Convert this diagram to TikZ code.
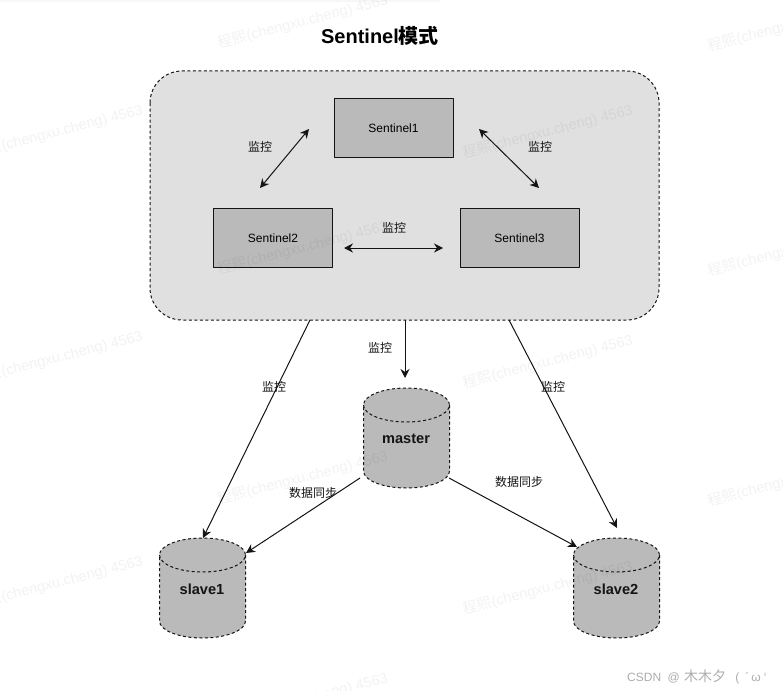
\documentclass[tikz,border=0pt]{standalone}
\usepackage{fontspec}
\setmainfont{Liberation Sans}
\newfontfamily\cjk{Noto Sans CJK SC}
\usetikzlibrary{arrows.meta,calc}
\definecolor{panelgray}{RGB}{224,224,224}
\definecolor{boxgray}{RGB}{186,186,186}
\definecolor{inkdark}{RGB}{20,20,20}
\tikzset{
  link/.style={inkdark,line width=1pt,-{Stealth[length=9pt,width=9pt]}},
  twolink/.style={inkdark,line width=1pt,{Stealth[length=9pt,width=9pt]}-{Stealth[length=9pt,width=9pt]}},
  senbox/.style={draw=inkdark,line width=1pt,fill=boxgray,minimum width=119pt,minimum height=59pt,font=\fontsize{12}{14}\selectfont},
  tag/.style={font=\cjk\fontsize{12}{14}\selectfont,text=inkdark,inner sep=0pt},
  dbname/.style={font=\bfseries\fontsize{14.6}{17}\selectfont,text=inkdark,inner sep=0pt},
  dashline/.style={inkdark,line width=1pt,dash pattern=on 3pt off 2.5pt},
  mark text/.style={font=\fontsize{14.6}{16}\selectfont,text=black,opacity=.05,rotate=14.5,inner sep=0pt}
}
% one database drum: #1 name, #2 centre x, #3 top y
\newcommand{\drum}[3]{
  \fill[boxgray] (#2-43,#3+17) arc[start angle=180,end angle=360,x radius=43,y radius=17]
    -- (#2+43,#3+83) arc[start angle=0,end angle=180,x radius=43,y radius=17] -- cycle;
  \draw[dashline] (#2-43,#3+17) arc[start angle=180,end angle=-180,x radius=43,y radius=17]
    (#2+43,#3+17) -- (#2+43,#3+83) arc[start angle=0,end angle=180,x radius=43,y radius=17] -- (#2-43,#3+17);
  \node[dbname] (#1) at (#2-.5,#3+51) {#1};
}
\begin{document}
\begin{tikzpicture}[x=1pt,y=-1pt,line join=round]
  \useasboundingbox (0,0) rectangle (783,690);
  \fill[white] (0,0) rectangle (783,690);
  \fill[black,opacity=.03] (0,0) rectangle (440,2);
  \node[font=\bfseries\fontsize{20}{22}\selectfont,inner sep=0pt] (title) at (380,36) {Sentinel{\cjk 模式}};
  % group panel
  \draw[dashline,fill=panelgray,rounded corners=32pt] (150,71) rectangle (659,320);
  \coordinate (panelS) at (405,320);
  \coordinate (panelL) at (310,320);
  \coordinate (panelR) at (509,320);
  % sentinels
  \node[senbox] (sen1) at (393.5,128) {Sentinel1};
  \node[senbox] (sen2) at (273,238) {Sentinel2};
  \node[senbox] (sen3) at (519.5,238) {Sentinel3};
  % drums
  \drum{master}{406.5}{388}
  \drum{slave1}{202.5}{538}
  \drum{slave2}{616.5}{538}
  % free ends of the arrows
  \coordinate (a1) at (309,129);
  \coordinate (a2) at (260,188);
  \coordinate (b1) at (479,129);
  \coordinate (b2) at (539,188);
  \coordinate (c1) at (344,248);
  \coordinate (c2) at (443,248);
  \draw[twolink] (a1) -- (a2);
  \draw[twolink] (b1) -- (b2);
  \draw[twolink] (c1) -- (c2);
  \coordinate (m1) at (405,378);
  \coordinate (s1) at (203,538);
  \coordinate (s2) at (617,528);
  \coordinate (d1) at (360,478);
  \coordinate (d2) at (246,553);
  \coordinate (e1) at (449,478);
  \coordinate (e2) at (577,547);
  \draw[link] (panelS) -- (m1);
  \draw[link] (panelL) -- (s1);
  \draw[link] (panelR) -- (s2);
  \draw[link] (d1) -- (d2);
  \draw[link] (e1) -- (e2);
  % labels
  \node[tag] (t1) at (260,147) {监控};
  \node[tag] (t2) at (540,147) {监控};
  \node[tag] (t3) at (394,228) {监控};
  \node[tag] (t4) at (380,348) {监控};
  \node[tag] (t5) at (274,387) {监控};
  \node[tag] (t6) at (553,387) {监控};
  \node[tag] (t7) at (313,493) {数据同步};
  \node[tag] (t8) at (519,482) {数据同步};
  % watermarks
  \foreach \x/\y in {303/22,548/132,303/248,548/362,303/478,548/588,58/132,58/358,58/583,303/700,793/25,793/250,793/480}
    \node[mark text] at (\x,\y) {{\cjk 程熙}(chengxu.cheng) 4563};
  \node[font=\fontsize{12}{14}\selectfont,text=black!32,anchor=west,inner sep=0pt] (csdn) at (627,677)
    {CSDN\hspace{3pt} @\hspace{1pt} {\cjk\fontsize{14}{14}\selectfont 木木夕}\hspace{6pt} (\hspace{6pt}´\hspace{2pt}ω\hspace{3pt}`};
\end{tikzpicture}
\end{document}
